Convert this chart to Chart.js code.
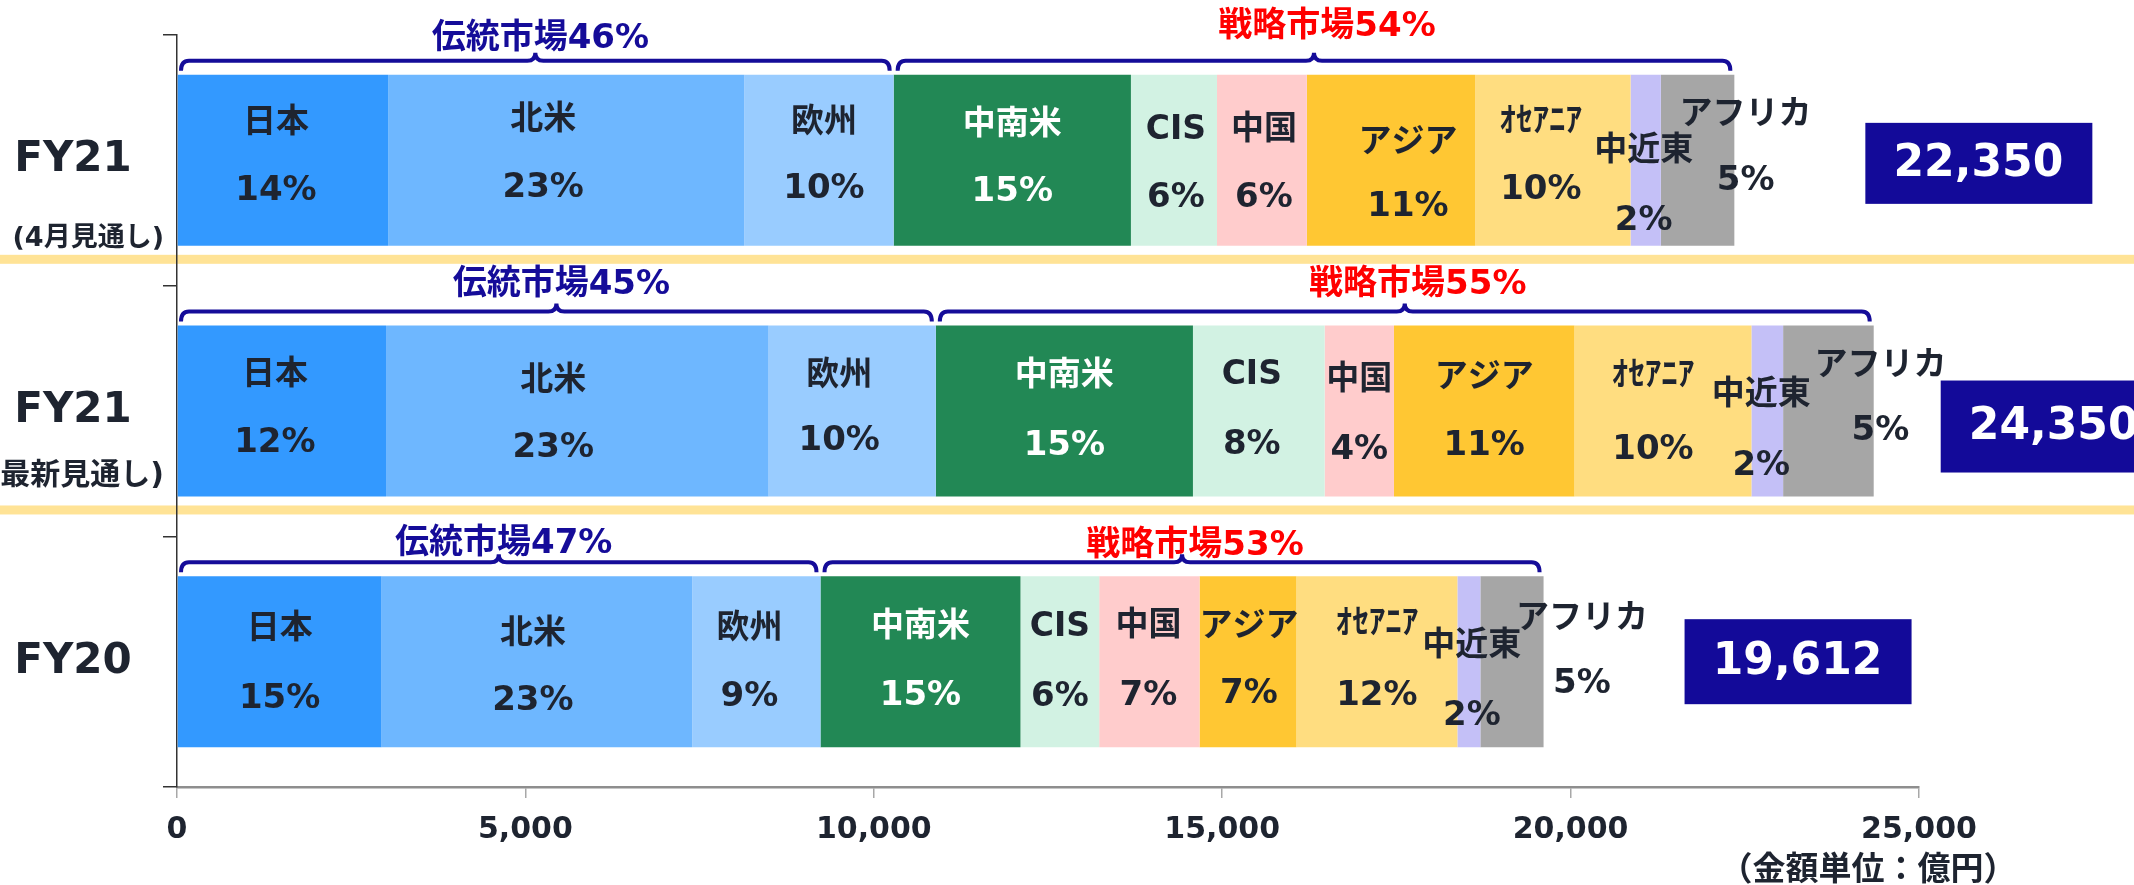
<!DOCTYPE html>
<html><head><meta charset="utf-8">
<script src="https://cdn.jsdelivr.net/npm/chart.js@4/dist/chart.umd.min.js"></script>
<style>html,body{margin:0;padding:0;background:#fff;overflow:hidden}#wrap{width:2134px;height:885px;position:relative}</style>
</head><body><div id="wrap"><canvas id="c" width="2134" height="885"></canvas></div>
<script>
// ---- data ----
const categories = ['FY21', 'FY21', 'FY20'];
const subLabels = ['(4月見通し)', '(最新見通し)', ''];
const regionNames = ['日本', '北米', '欧州', '中南米', 'CIS', '中国', 'アジア', 'ｵｾｱﾆｱ', '中近東', 'アフリカ'];
const japan        = [3030, 3000, 2935];
const northAmerica = [5110, 5490, 4460];
const europe       = [2145, 2400, 1840];
const latinAmerica = [3405, 3690, 2870];
const cis          = [1235, 1890, 1130];
const china        = [1290,  995, 1440];
const asia         = [2415, 2590, 1390];
const oceania      = [2230, 2540, 2310];
const middleEast   = [ 435,  455,  330];
const africa       = [1055, 1300,  907];
const pctJapan        = ['14%', '12%', '15%'];
const pctNorthAmerica = ['23%', '23%', '23%'];
const pctEurope       = ['10%', '10%', '9%'];
const pctLatinAmerica = ['15%', '15%', '15%'];
const pctCis          = ['6%', '8%', '6%'];
const pctChina        = ['6%', '4%', '7%'];
const pctAsia         = ['11%', '11%', '7%'];
const pctOceania      = ['10%', '10%', '12%'];
const pctMiddleEast   = ['2%', '2%', '2%'];
const pctAfrica       = ['5%', '5%', '5%'];
const totals = ['22,350', '24,350', '19,612'];
const traditionalLabels = ['伝統市場46%', '伝統市場45%', '伝統市場47%'];
const strategicLabels   = ['戦略市場54%', '戦略市場55%', '戦略市場53%'];
const xTickValues = [0, 5000, 10000, 15000, 20000, 25000];
const unitLabel = '（金額単位：億円）';

const seriesValues = [japan, northAmerica, europe, latinAmerica, cis, china, asia, oceania, middleEast, africa];
const seriesPct = [pctJapan, pctNorthAmerica, pctEurope, pctLatinAmerica, pctCis, pctChina, pctAsia, pctOceania, pctMiddleEast, pctAfrica];
const colors = ['#3399FF', '#6EB7FF', '#99CCFF', '#228855', '#D2F2E3', '#FFCCCC', '#FFC733', '#FFDD80', '#C4C0F7', '#A6A6A6'];

const FONT = '"DejaVu Sans","Noto Sans CJK JP",sans-serif';
const CJK = '"Noto Sans CJK JP",sans-serif';
const TXT = '#1E2430';
const NAVY = '#150C99';

// label layout: per series, per bar [dx, nameDy, pctDy] relative to segment centre / bar top
const labelPos = [
  [[-7, 49, 116], [-7, 50, 118], [0, 53, 123]],
  [[-23, 46, 113], [-24, 56, 123], [-4, 58, 125]],
  [[5, 49, 114], [-13, 51, 116], [-7, 53, 121]],
  [[0, 51, 117], [0, 51, 121], [0, 51, 120]],
  [[2, 56, 123], [-7, 50, 120], [0, 51, 121]],
  [[2, 56, 123], [0, 55, 125], [-1, 50, 120]],
  [[17, 69, 132], [0, 53, 121], [1, 51, 118]],
  [[-12, 48, 115], [-10, 51, 125], [0, 48, 120]],
  [[-2, 77, 146], [-6, 70, 141], [3, 70, 140]],
  [[48, 41, 106], [52, 41, 106], [70, 43, 108]]
];

const overlay = {
  id: 'overlay',
  beforeDraw(chart) {
    const ctx = chart.ctx;
    ctx.save();
    ctx.fillStyle = '#fff';
    ctx.fillRect(0, 0, chart.width, chart.height);
    const meta = chart.getDatasetMeta(0);
    ctx.fillStyle = '#FFE396';
    for (let j = 0; j < meta.data.length - 1; j++) {
      const p = meta.data[j].getProps(['y', 'height'], true);
      const bottom = p.y + p.height / 2;
      ctx.fillRect(0, bottom + 9, chart.width, 9);
    }
    ctx.restore();
  },
  afterDatasetsDraw(chart) {
    const ctx = chart.ctx;
    const xs = chart.scales.x, ys = chart.scales.y;
    ctx.save();
    ctx.textAlign = 'center';
    ctx.textBaseline = 'middle';
    // segment labels
    seriesValues.forEach((vals, i) => {
      const meta = chart.getDatasetMeta(i);
      meta.data.forEach((el, j) => {
        const p = el.getProps(['x', 'y', 'base', 'height'], true);
        const cx = (p.x + p.base) / 2 + labelPos[i][j][0];
        const top = p.y - p.height / 2;
        ctx.fillStyle = i === 3 ? '#FFFFFF' : TXT;
        ctx.font = 'bold 33px ' + FONT;
        ctx.fillText(regionNames[i], cx, top + labelPos[i][j][1]);
        ctx.font = 'bold 34px ' + FONT;
        ctx.fillText(seriesPct[i][j], cx, top + labelPos[i][j][2]);
      });
    });
    // braces, group labels, totals
    const meta0 = chart.getDatasetMeta(0);
    const tradDy = [-36, -40, -32], stratDy = [-48, -40, -30];
    const boxDx = [131, 67, 141], boxDy = [48, 55, 43], boxH = [81, 92, 85];
    const subSize = [27, 30, 27], subDy = [79, 65, 70];
    meta0.data.forEach((el, j) => {
      const p = el.getProps(['y', 'height'], true);
      const top = p.y - p.height / 2;
      let tradSum = 0, total = 0;
      seriesValues.forEach((v, i) => { if (i < 3) tradSum += v[j]; total += v[j]; });
      const x0 = xs.getPixelForValue(0), xm = xs.getPixelForValue(tradSum), x1 = xs.getPixelForValue(total);
      ctx.strokeStyle = NAVY;
      ctx.lineWidth = 4;
      const pk1 = (x0 + 4 + xm - 4) / 2, pk2 = (xm + 4 + x1 - 4) / 2;
      drawBrace(ctx, x0 + 4, xm - 4, top, pk1);
      drawBrace(ctx, xm + 4, x1 - 4, top, pk2);
      ctx.font = 'bold 34px ' + FONT;
      ctx.fillStyle = NAVY;
      ctx.fillText(traditionalLabels[j], pk1 + 5, top + tradDy[j]);
      ctx.fillStyle = '#FF0000';
      ctx.fillText(strategicLabels[j], pk2 + 13, top + stratDy[j]);
      // total box
      const bx = x1 + boxDx[j], by = top + boxDy[j];
      ctx.fillStyle = '#130A99';
      ctx.fillRect(bx, by, 227, boxH[j]);
      ctx.fillStyle = '#FFFFFF';
      ctx.font = 'bold 44px ' + FONT;
      ctx.fillText(totals[j], bx + 113, by + boxH[j] / 2 + 1);
      // category labels
      const cy = ys.getPixelForValue(j);
      ctx.fillStyle = TXT;
      ctx.font = 'bold 42px ' + FONT;
      ctx.fillText(categories[j], 73, cy);
      if (subLabels[j]) {
        ctx.font = 'bold ' + subSize[j] + 'px ' + FONT;
        ctx.textAlign = 'right';
        ctx.fillText(subLabels[j], 164, cy + subDy[j]);
        ctx.textAlign = 'center';
      }
    });
    ctx.fillStyle = TXT;
    ctx.font = 'bold 33px ' + CJK;
    const w = ctx.measureText(unitLabel).width;
    const target = 297;
    ctx.save();
    ctx.translate(1868, 867);
    ctx.scale(Math.min(1.2, target / w), 1);
    ctx.fillText(unitLabel, 0, 0);
    ctx.restore();
    ctx.restore();
  }
};

function drawBrace(ctx, x0, x1, top, peakX) {
  const yH = top - 14, yEnd = top - 4, yPk = top - 22, r = 8;
  ctx.beginPath();
  ctx.moveTo(x0, yEnd);
  ctx.quadraticCurveTo(x0, yH, x0 + r, yH);
  ctx.lineTo(peakX - r, yH);
  ctx.quadraticCurveTo(peakX, yH, peakX, yPk);
  ctx.quadraticCurveTo(peakX, yH, peakX + r, yH);
  ctx.lineTo(x1 - r, yH);
  ctx.quadraticCurveTo(x1, yH, x1, yEnd);
  ctx.stroke();
}

new Chart(document.getElementById('c'), {
  type: 'bar',
  data: {
    labels: categories.map((c, i) => c + subLabels[i]),
    datasets: seriesValues.map((v, i) => ({
      label: regionNames[i], data: v, backgroundColor: colors[i], borderWidth: 0,
      barPercentage: 0.682, categoryPercentage: 1
    }))
  },
  options: {
    indexAxis: 'y',
    responsive: false,
    animation: false,
    devicePixelRatio: 1,
    layout: { padding: { top: 35, right: 215, left: 0, bottom: 0 } },
    plugins: { legend: { display: false }, tooltip: { enabled: false } },
    scales: {
      x: {
        stacked: true, min: 0, max: 25000,
        afterBuildTicks(s) { s.ticks = xTickValues.map(v => ({ value: v })); },
        afterFit(s) { s.height = 98; },
        grid: { drawOnChartArea: false, tickLength: 11, color: '#A8A8A8', lineWidth: 1.5 },
        border: { color: '#8E8E8E', width: 2.5 },
        ticks: { color: TXT, padding: 14, font: { family: FONT, size: 30, weight: 'bold' } }
      },
      y: {
        stacked: true,
        afterFit(s) { s.width = 177; },
        grid: { drawOnChartArea: false, tickLength: 14, color: '#333333', lineWidth: 1.5, offset: true },
        border: { color: '#333333', width: 1.5 },
        ticks: { display: false }
      }
    }
  },
  plugins: [overlay]
});
</script></body></html>
